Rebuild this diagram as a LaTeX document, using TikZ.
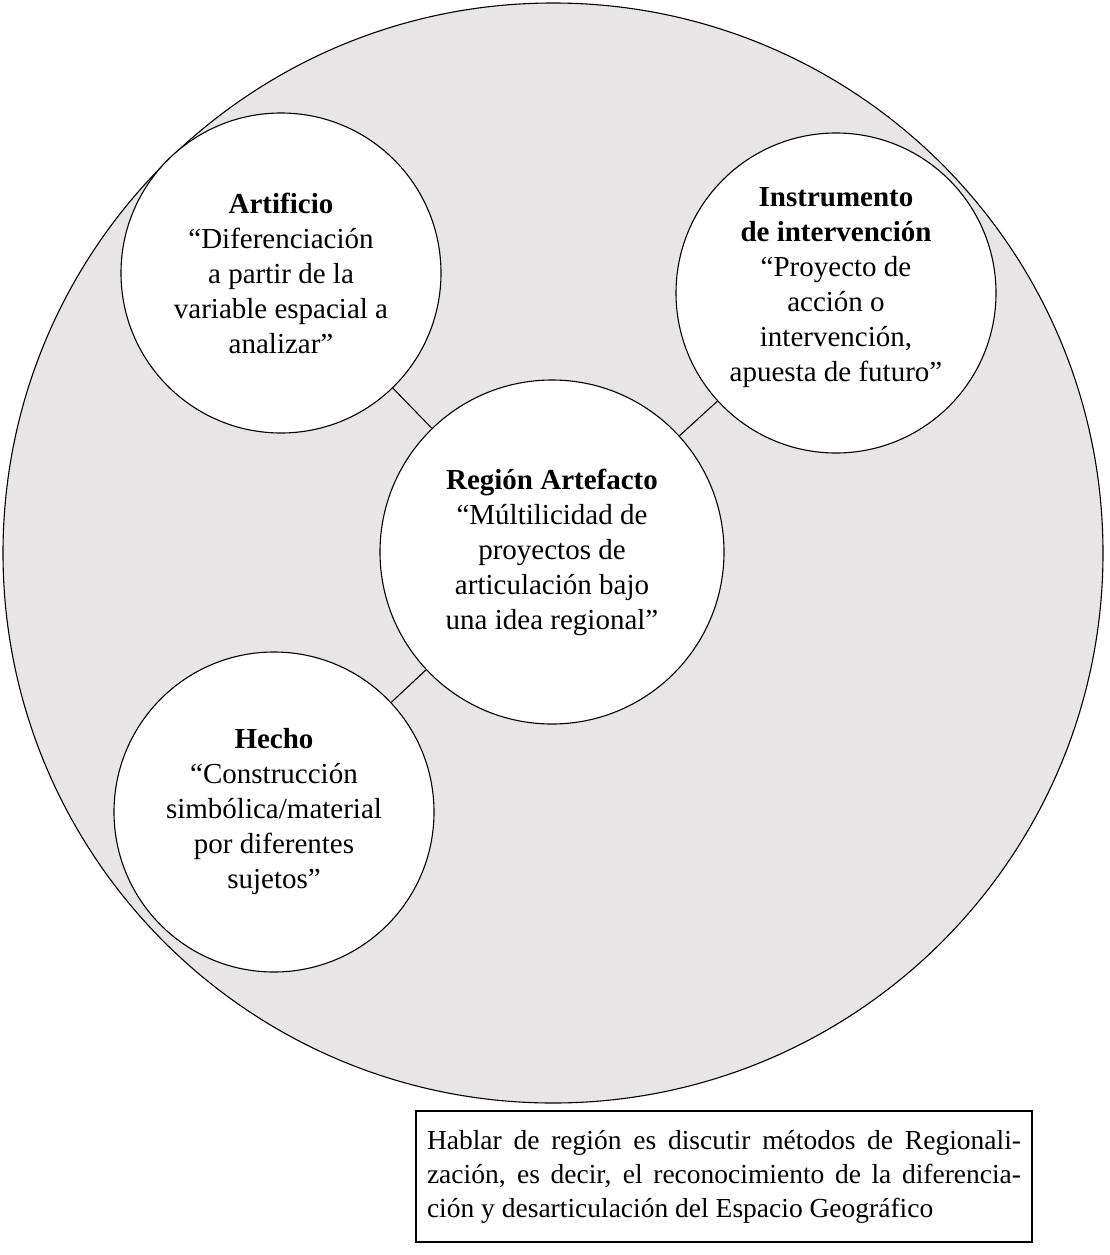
\documentclass[tikz,border=0pt]{standalone}
\usepackage{fontspec}
\setmainfont{Liberation Serif}
\usepackage{tikz}
\usepackage{xcolor}
\definecolor{fondo}{RGB}{231, 229, 230}

\begin{document}
\begin{tikzpicture}[x=1pt, y=-1pt, line width=1.1pt,
  idea/.style={circle, draw, fill=white, minimum size=320pt, inner sep=0pt,
    align=center, font=\fontsize{29}{35}\selectfont}]
  \useasboundingbox (0,0) rectangle (1109,1255);
  % outer region
  \node[circle, draw, fill=fondo, minimum size=1100pt, inner sep=0pt] (outer) at (553,553) {};
  % the four ideas
  \node[idea, minimum size=344pt] (reg) at (552,552)
    {\textbf{Región Artefacto}\\“Múltilicidad de\\proyectos de\\articulación bajo\\una idea regional”};
  \node[idea] (art) at (281,273)
    {\textbf{Artificio}\\“Diferenciación\\a partir de la\\variable espacial a\\analizar”};
  \node[idea] (inst) at (836,293)
    {\textbf{Instrumento}\\\textbf{de intervención}\\“Proyecto de\\acción o\\intervención,\\apuesta de futuro”\\[-19pt]};
  \node[idea] (hecho) at (274,812)
    {\textbf{Hecho}\\“Construcción\\simbólica/material\\por diferentes\\sujetos”};
  \draw (art) -- (reg);
  \draw (inst) -- (reg);
  \draw (hecho) -- (reg);
  % note
  \node[draw, minimum width=616pt, minimum height=131pt, align=left,
    font=\fontsize{27.5}{34}\selectfont] (nota) at (724,1176.5)
    {\makebox[594pt][s]{Hablar de región es discutir métodos de Regionali-}\\
     \makebox[594pt][s]{zación, es decir, el reconocimiento de la diferencia-}\\
     \makebox[594pt][l]{ción y desarticulación del Espacio Geográfico}};
\end{tikzpicture}
\end{document}
